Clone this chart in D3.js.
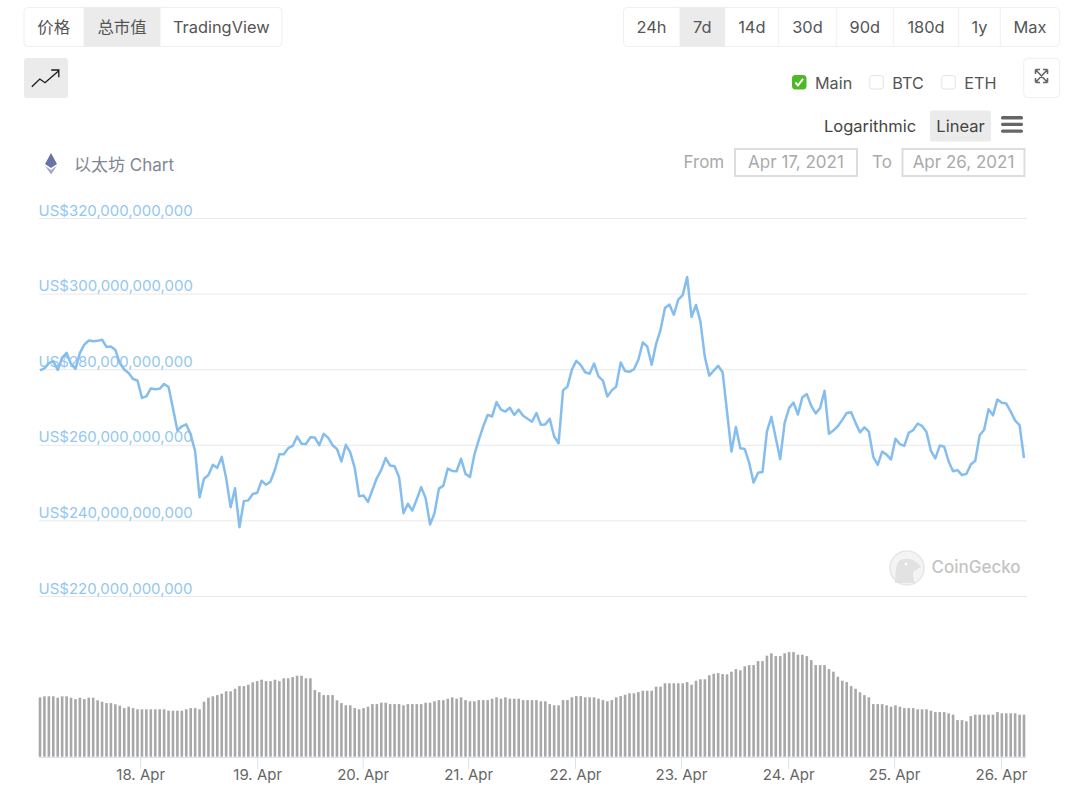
<!DOCTYPE html>
<html><head><meta charset="utf-8">
<script src="https://cdn.jsdelivr.net/npm/d3@7"></script>
<style>
html,body{margin:0;padding:0;background:#fff}
svg{display:block}
text{font-family:Inter,"Noto Sans CJK SC",sans-serif}
</style></head><body>
<svg id="c" width="1080" height="797"></svg>
<script>
// Market cap, billions of USD, one reading per hour
const marketCap = [
279.7,280.2,281.6,282.1,279.8,283.0,284.3,281.4,280.1,284.3,286.5,287.6,287.4,287.5,287.8,285.9,286.0,285.1,281.6,279.9,
279.0,277.4,277.0,272.4,272.8,274.9,274.7,274.8,276.1,275.3,269.7,263.8,264.9,265.4,262.7,258.3,246.1,251.0,252.0,254.7,
253.9,256.8,251.2,243.5,248.5,238.2,245.1,245.3,247.0,247.3,250.5,249.4,250.3,253.4,257.5,257.5,259.1,259.7,262.2,260.3,
260.2,262.0,261.9,259.9,262.9,261.9,259.9,258.9,255.6,260.0,258.0,253.9,246.4,246.6,244.9,
248.1,251.2,253.4,256.5,254.5,254.3,251.5,241.9,244.4,242.6,245.6,248.8,245.9,238.9,241.9,248.4,249.2,253.7,253.1,253.0,
256.3,252.3,251.5,257.4,261.3,264.9,267.9,267.5,271.3,269.3,268.8,269.8,267.9,269.3,267.7,266.9,266.1,268.4,265.3,265.4,
266.9,262.2,260.4,274.4,275.4,279.9,282.2,281.1,279.2,278.8,281.5,278.1,277.0,272.8,274.4,275.4,281.8,279.5,279.3,280.0,
282.5,287.1,286.0,281.2,286.7,290.4,296.2,297.1,294.4,298.4,299.6,304.4,293.8,297.0,
292.6,283.2,278.3,279.6,280.9,279.2,268.8,258.2,264.7,259.1,258.9,255.2,250.0,252.6,252.8,263.5,267.4,261.8,256.2,265.8,
269.7,271.2,268.0,272.6,273.4,270.3,268.3,269.7,274.3,262.9,263.8,264.9,266.6,268.4,268.6,265.8,263.3,264.6,263.5,256.8,
254.7,258.2,257.4,256.1,261.6,260.2,259.7,263.2,263.9,265.6,265.0,263.4,258.4,256.4,259.8,259.5,255.6,253.0,253.3,252.0,
252.3,254.8,255.8,262.5,264.0,269.4,267.8,272.0,271.1,270.9,268.8,266.4,265.2,256.5];
// Trading volume, billions of USD
const volume = [
29.7,30.2,30.2,30.2,29.5,30.2,30.2,29.5,28.8,29.5,28.8,29.5,29.5,28.2,27.5,26.8,26.8,26.2,25.5,24.3,
25,24.3,23.7,23.7,23.7,23.7,23.7,23.7,23.7,23,23,23,23,23.7,24.3,24.3,23.7,27.5,29.5,30.2,
30.8,31.5,32.7,32.7,34,35.3,35.3,36,37.2,37.8,38.5,37.8,37.8,38.5,37.8,39.2,39.2,39.8,40.5,40.5,
39.2,39.2,33.3,32.2,30.8,30.8,30.8,28.2,26.8,25.7,25.7,24.3,23.7,24.3,25,
26.3,26.3,27,27,26.3,26.3,26.3,25.7,26.3,26.3,26.3,26.3,27,27,27.7,28.3,28.3,29,29.7,29,
29.7,28.3,27.7,27.7,28.3,28.3,28.3,29,29.7,29,29.7,29,29,29,28.3,28.3,28.3,28.3,27.7,27.7,
26.3,25.7,25.7,28.3,28.3,29.7,30.3,30.3,29.7,29.7,29.7,29,28.3,27.7,28.3,29.7,30.3,31,31.7,31.7,
32.3,33,33,33,35,35,36.7,36.7,36.7,36.7,36.7,37.3,36,38,38.7,
38.7,40.7,41.5,41.8,41.3,41.2,42.5,43.8,43.2,45.2,45.8,45.8,47.8,47.8,50.5,51.7,50.3,50.3,51.7,52.3,
52.3,51,51,50.3,48.3,45.8,45.8,45.8,43.8,42.5,40,38,37.3,35.3,34,32.2,30.8,29.7,26.3,26.3,
26.3,25.7,25,25.7,25,24.3,24.3,24.3,23.7,23.7,23.7,23,22.3,22.3,22.3,21.7,21,18.3,18.3,17.7,
20.3,21,21,21,21,21,22.3,21.7,21.7,21.7,21.7,21,21];
const yTicks = [220,240,260,280,300,320];
const dayTickLabels = ["18. Apr","19. Apr","20. Apr","21. Apr","22. Apr","23. Apr","24. Apr","25. Apr","26. Apr"];
const dayTickHours = [22.6,49,72.8,96.6,120.7,144.6,168.8,192.7,216.8];
const typeButtons = ["价格","总市值","TradingView"];
const rangeButtons = ["24h","7d","14d","30d","90d","180d","1y","Max"];
const seriesToggles = ["Main","BTC","ETH"];

const svg = d3.select("#c");
const LINE = "#85bdee", LABEL = "#93c7f1", BAR = "#a8a8a8", TEXT = "#555";

function btnGroup(labels, edges, active, y0, y1, size){
  const g = svg.append("g");
  const x0 = edges[0], x1 = edges[edges.length-1];
  g.append("rect").attr("x",x0).attr("y",y0).attr("width",x1-x0).attr("height",y1-y0).attr("rx",4).attr("fill","#fff").attr("stroke","#efefef");
  labels.forEach((l,i)=>{
    if(i===active) g.append("rect").attr("x",edges[i]).attr("y",y0).attr("width",edges[i+1]-edges[i]).attr("height",y1-y0).attr("fill","#ebebeb");
    else if(i>0 && i-1!==active) g.append("line").attr("x1",edges[i]).attr("x2",edges[i]).attr("y1",y0).attr("y2",y1).attr("stroke","#f0f0f0");
    g.append("text").attr("x",(edges[i]+edges[i+1])/2).attr("y",(y0+y1)/2+6).attr("text-anchor","middle").attr("font-size",size).attr("fill",TEXT).text(l);
  });
}
btnGroup(typeButtons,[24,83.5,160.5,282],1,7.5,46.5,16.4);
btnGroup(rangeButtons,[623.5,679.5,725,778.7,836.3,893.3,958.7,1000.3,1059.5],1,7.5,46.5,16.4);

// trend icon
svg.append("rect").attr("x",24).attr("y",58).attr("width",44).attr("height",40).attr("rx",3).attr("fill","#ebebeb");
svg.append("path").attr("d","M31.8 86.7L39.8 79L45 82.7L58.8 70.7M51.2 70H58.8V77.3").attr("fill","none").attr("stroke","#1a1a1a").attr("stroke-width",1.3);

// series toggles
const toggleX = [792,869.3,941.3];
seriesToggles.forEach((s,i)=>{
  const on = i===0;
  svg.append("rect").attr("x",toggleX[i]+.5).attr("y",75.5).attr("width",13.5).attr("height",13.5).attr("rx",2.5)
    .attr("fill",on?"#4fb827":"#fff").attr("stroke",on?"#4fb827":"#e4e4e4");
  if(on) svg.append("path").attr("d","M795.5 82.5L798 85.5L803 78.8").attr("fill","none").attr("stroke","#fff").attr("stroke-width",2);
  svg.append("text").attr("x",toggleX[i]+23).attr("y",89).attr("font-size",16.2).attr("fill",TEXT).text(s);
});

// fullscreen button
svg.append("rect").attr("x",1023.7).attr("y",58.3).attr("width",35.8).attr("height",39.2).attr("rx",4).attr("fill","#fff").attr("stroke","#efefef");
svg.append("path").attr("d","M1035.5 69.5H1040M1035.5 69.5V74M1035.5 69.5L1047.5 82.5M1047.5 82.5H1043M1047.5 82.5V78M1047.5 69.5H1043M1047.5 69.5V74M1047.5 69.5L1035.5 82.5M1035.5 82.5H1040M1035.5 82.5V78")
  .attr("fill","none").attr("stroke","#666").attr("stroke-width",1.6);

// scale selector
svg.append("text").attr("x",824).attr("y",132).attr("font-size",16.5).attr("fill","#444").text("Logarithmic");
svg.append("rect").attr("x",930).attr("y",110.5).attr("width",61).attr("height",31).attr("rx",2).attr("fill","#ebebeb");
svg.append("text").attr("x",960.5).attr("y",132).attr("text-anchor","middle").attr("font-size",16.5).attr("fill","#444").text("Linear");
[116,122.7,129.4].forEach(y=>svg.append("rect").attr("x",1001).attr("y",y).attr("width",22).attr("height",3.4).attr("rx",1.5).attr("fill","#666"));

// date range
const GREY="#aaa";
svg.append("text").attr("x",683.5).attr("y",168).attr("font-size",17).attr("fill",GREY).text("From");
svg.append("text").attr("x",872).attr("y",168).attr("font-size",17).attr("fill",GREY).text("To");
[[735,"Apr 17, 2021"],[902.5,"Apr 26, 2021"]].forEach(([x,t])=>{
  svg.append("rect").attr("x",x).attr("y",149).attr("width",122).attr("height",27).attr("fill","#fff").attr("stroke","#ddd").attr("stroke-width",2);
  svg.append("text").attr("x",x+61).attr("y",168).attr("text-anchor","middle").attr("font-size",17).attr("fill",GREY).text(t);
});

// title with ether mark
svg.append("path").attr("d","M51 153L57 164L51 168L45 164Z").attr("fill","#6a73a6");
svg.append("path").attr("d","M51 170L57 165.8L51 174.5L45 165.8Z").attr("fill","#a3a9cb");
svg.append("text").attr("x",74).attr("y",170.5).attr("font-size",17).attr("fill","#7f8794").text("以太坊 Chart");

// chart
const x = d3.scaleLinear().domain([0,marketCap.length-1]).range([40,1024]);
const y = d3.scaleLinear().domain([220,320]).range([596,218]);
const yVol = d3.scaleLinear().domain([0,60]).range([756.7,636.7]);

const gridAxis = d3.axisRight(y).tickValues(yTicks).tickSize(988).tickFormat(d=>"US$"+d3.format(",")(d*1e9));
const gy = svg.append("g").attr("transform","translate(39,0)").call(gridAxis);
gy.select(".domain").remove();
gy.selectAll("line").attr("stroke","#e9e9e9");
gy.selectAll("text").attr("x",-0.5).attr("dy",-3).attr("text-anchor","start").attr("font-size",15).attr("fill",LABEL).attr("font-family",'Inter,sans-serif');

// watermark
svg.append("circle").attr("cx",907).attr("cy",568).attr("r",17).attr("fill","#f4f4f4").attr("stroke","#e6e6e6").attr("stroke-width",1.5);
svg.append("path").attr("d","M895 583C896 570 895 560 904 559C911 558 917 561 921 567C916 570 913 571 913 574C913 578 914 580 915 583Z").attr("fill","#e2e2e2");
svg.append("circle").attr("cx",906).attr("cy",564).attr("r",1.6).attr("fill","#fafafa");
svg.append("text").attr("x",931.5).attr("y",573).attr("font-size",17).attr("font-weight",500).attr("fill","#c4c4c4").text("CoinGecko");

// volume bars
svg.append("g").selectAll("rect").data(volume).join("rect")
  .attr("x",(d,i)=>x(i)-1.3).attr("width",2.6)
  .attr("y",d=>yVol(d)).attr("height",d=>yVol(0)-yVol(d)).attr("fill",BAR);

// line
svg.append("path").attr("fill","none").attr("stroke",LINE).attr("stroke-width",2.5).attr("stroke-linejoin","round")
  .attr("d",d3.line().x((d,i)=>x(i)).y(d=>y(d))(marketCap));

// time axis
const xAxis = d3.axisBottom(x).tickValues(dayTickHours).tickSize(12).tickPadding(0).tickFormat((d,i)=>dayTickLabels[i]);
const gx = svg.append("g").attr("transform","translate(0,757)").call(xAxis);
gx.select(".domain").attr("d","M39 0.5H1026").attr("stroke","#dbe2f0");
gx.selectAll("line").attr("stroke","#dbe2f0");
gx.selectAll("text").attr("y",23).attr("dy",0).attr("font-size",15).attr("fill","#666").attr("font-family",'Inter,sans-serif');
</script>
</body></html>
